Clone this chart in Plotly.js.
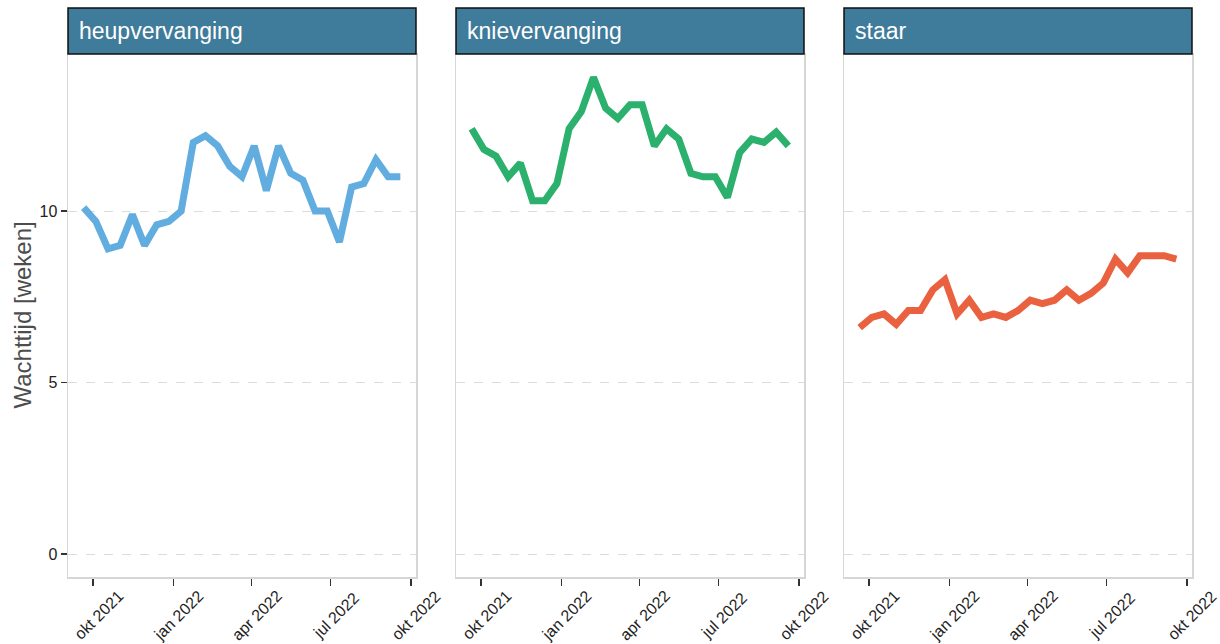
<!DOCTYPE html>
<html>
<head>
<meta charset="utf-8">
<script src="https://cdn.plot.ly/plotly-3.0.1.min.js"></script>
<style>
  body { margin: 0; background: #fff; }
  #chart { width: 1220px; height: 644px; }
</style>
</head>
<body>
<div id="chart"></div>
<script>
// tweewekelijkse meetmomenten
const dates = [
  '2021-09-20', '2021-10-04', '2021-10-18', '2021-11-01', '2021-11-15', '2021-11-29',
  '2021-12-13', '2021-12-27', '2022-01-10', '2022-01-24', '2022-02-07', '2022-02-21',
  '2022-03-07', '2022-03-21', '2022-04-04', '2022-04-18', '2022-05-02', '2022-05-16',
  '2022-05-30', '2022-06-13', '2022-06-27', '2022-07-11', '2022-07-25', '2022-08-08',
  '2022-08-22', '2022-09-05', '2022-09-19'
];

const categories = ['heupvervanging', 'knievervanging', 'staar'];

const heup = [10.1, 9.7, 8.9, 9.0, 9.9, 9.0, 9.6, 9.7, 10.0, 12.0, 12.2, 11.9, 11.3, 11.0,
  11.9, 10.6, 11.9, 11.1, 10.9, 10.0, 10.0, 9.1, 10.7, 10.8, 11.5, 11.0, 11.0];
const knie = [12.4, 11.8, 11.6, 11.0, 11.4, 10.3, 10.3, 10.8, 12.4, 12.9, 13.9, 13.0, 12.7, 13.1,
  13.1, 11.9, 12.4, 12.1, 11.1, 11.0, 11.0, 10.4, 11.7, 12.1, 12.0, 12.3, 11.9];
const staar = [6.6, 6.9, 7.0, 6.7, 7.1, 7.1, 7.7, 8.0, 7.0, 7.4, 6.9, 7.0, 6.9, 7.1,
  7.4, 7.3, 7.4, 7.7, 7.4, 7.6, 7.9, 8.6, 8.2, 8.7, 8.7, 8.7, 8.6];

const seriesValues = [heup, knie, staar];
const colors = ['#62ade0', '#2bb06d', '#ea6140'];

const xTickVals = ['2021-10-01', '2022-01-01', '2022-04-01', '2022-07-01', '2022-10-01'];
const xTickText = ['okt 2021', 'jan 2022', 'apr 2022', 'jul 2022', 'okt 2022'];
const yTickVals = [0, 5, 10];

const W = 1220, H = 644;
const panelLeft = [68, 456, 844];
const panelWidth = 348;
const plotTop = 54, plotBottom = 577, stripTop = 8;

const traces = [];
const layout = {
  width: W,
  height: H,
  margin: { l: 0, r: 0, t: 0, b: 0 },
  paper_bgcolor: '#ffffff',
  plot_bgcolor: '#ffffff',
  showlegend: false,
  font: { family: 'Liberation Sans, Arial, sans-serif', color: '#222' },
  shapes: [],
  annotations: []
};

categories.forEach((cat, i) => {
  const n = i === 0 ? '' : String(i + 1);
  traces.push({
    x: dates,
    y: seriesValues[i],
    type: 'scatter',
    mode: 'lines',
    line: { color: colors[i], width: 7 },
    xaxis: 'x' + n,
    yaxis: 'y' + n,
    hoverinfo: 'x+y'
  });

  const x0 = panelLeft[i] / W;
  const x1 = (panelLeft[i] + panelWidth) / W;

  layout['xaxis' + n] = {
    domain: [x0, x1],
    anchor: 'y' + n,
    type: 'date',
    range: ['2021-09-02', '2022-10-07'],
    tickvals: xTickVals,
    ticks: 'outside',
    ticklen: 7,
    tickwidth: 1.5,
    tickcolor: '#333',
    showticklabels: false,
    showgrid: false,
    zeroline: false,
    showline: true,
    mirror: true,
    linecolor: '#d6d6d6',
    linewidth: 1.5
  };

  layout['yaxis' + n] = {
    domain: [(H - plotBottom) / H, (H - plotTop) / H],
    anchor: 'x' + n,
    range: [-0.67, 14.58],
    tickvals: yTickVals,
    ticks: i === 0 ? 'outside' : '',
    ticklen: 6,
    tickwidth: 1.5,
    tickcolor: '#333',
    showticklabels: i === 0,
    tickfont: { size: 16, color: '#222' },
    showgrid: true,
    gridcolor: '#dcdcdc',
    gridwidth: 1,
    griddash: 'dash',
    zeroline: false,
    showline: true,
    mirror: true,
    linecolor: '#d6d6d6',
    linewidth: 1.5
  };

  // schuine x-labels, iets rechts van de tick zoals in ggplot
  xTickVals.forEach((d, k) => {
    layout.annotations.push({
      xref: 'x' + n, yref: 'paper',
      x: d, y: (H - 615) / H,
      xanchor: 'center', yanchor: 'middle',
      xshift: 5,
      text: xTickText[k],
      textangle: -45,
      showarrow: false,
      font: { size: 16, color: '#222' }
    });
  });

  // strip boven elk paneel
  layout.shapes.push({
    type: 'rect',
    xref: 'paper', yref: 'paper',
    x0: x0, x1: x1,
    y0: (H - plotTop) / H, y1: (H - stripTop) / H,
    fillcolor: '#3f7b9a',
    line: { color: '#111', width: 1.5 },
    layer: 'above'
  });
  layout.annotations.push({
    xref: 'paper', yref: 'paper',
    x: (panelLeft[i] + 9) / W,
    y: (H - (plotTop + stripTop) / 2) / H,
    xanchor: 'left', yanchor: 'middle',
    text: cat,
    showarrow: false,
    font: { size: 23, color: '#ffffff' }
  });
});

layout.annotations.push({
  xref: 'paper', yref: 'paper',
  x: 22 / W,
  y: (H - (plotTop + plotBottom) / 2) / H,
  xanchor: 'center', yanchor: 'middle',
  text: 'Wachttijd [weken]',
  textangle: -90,
  showarrow: false,
  font: { size: 24, color: '#4d4d4d' }
});

Plotly.newPlot('chart', traces, layout, { displayModeBar: false, staticPlot: true })
  .catch(error => console.error('Error rendering graph:', error));
</script>
</body>
</html>
